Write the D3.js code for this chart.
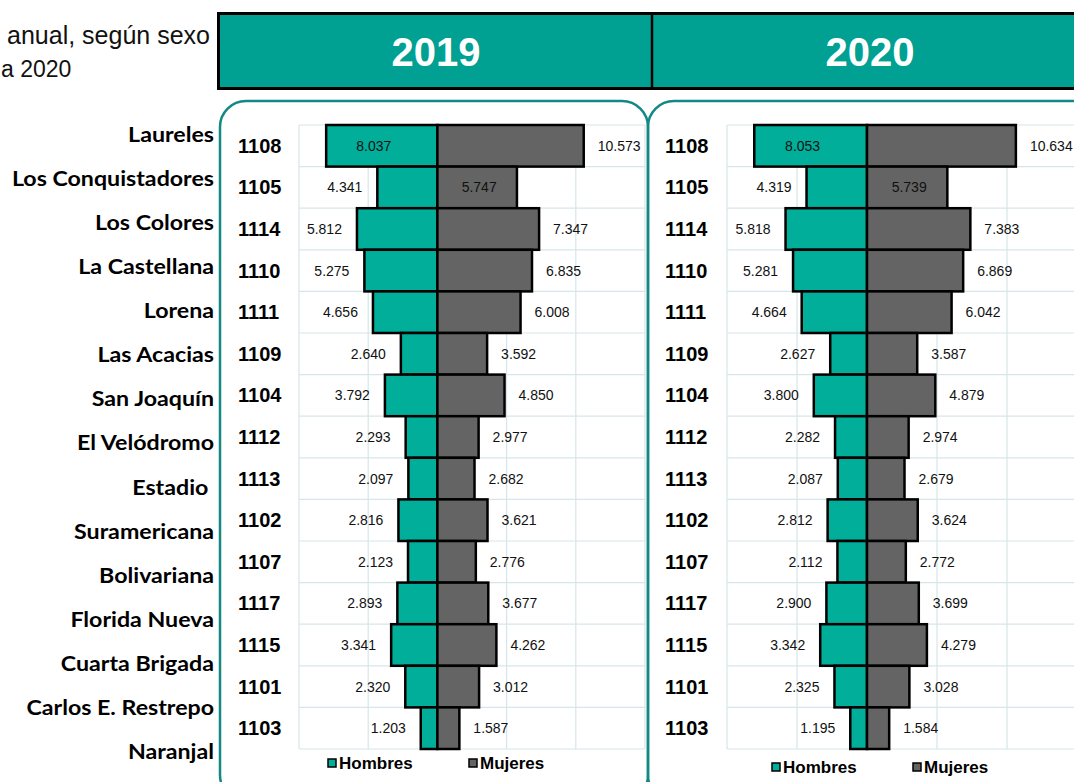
<!DOCTYPE html>
<html>
<head>
<meta charset="utf-8">
<script src="https://cdn.jsdelivr.net/npm/d3@7"></script>
<style>
  body { margin: 0; background: #fff; }
  svg { display: block; }
</style>
</head>
<body>
<div id="chart"></div>
<script>
// barrios (left labels) and codes (row labels)
var barrios = ["Laureles", "Los Conquistadores", "Los Colores", "La Castellana", "Lorena",
  "Las Acacias", "San Joaquín", "El Velódromo", "Estadio\u00a0", "Suramericana", "Bolivariana",
  "Florida Nueva", "Cuarta Brigada", "Carlos E. Restrepo", "Naranjal"];
var codigos = ["1108", "1105", "1114", "1110", "1111", "1109", "1104", "1112", "1113",
  "1102", "1107", "1117", "1115", "1101", "1103"];

var hombres2019 = [8037, 4341, 5812, 5275, 4656, 2640, 3792, 2293, 2097, 2816, 2123, 2893, 3341, 2320, 1203];
var mujeres2019 = [10573, 5747, 7347, 6835, 6008, 3592, 4850, 2977, 2682, 3621, 2776, 3677, 4262, 3012, 1587];
var hombres2020 = [8053, 4319, 5818, 5281, 4664, 2627, 3800, 2282, 2087, 2812, 2112, 2900, 3342, 2325, 1195];
var mujeres2020 = [10634, 5739, 7383, 6869, 6042, 3587, 4879, 2974, 2679, 3624, 2772, 3699, 4279, 3028, 1584];

var anios = ["2019", "2020"];
var ticks = [-10000, -5000, 0, 5000, 10000, 15000];
var leyenda = ["Hombres", "Mujeres"];

var W = 1074, H = 782;
var cTeal = "#00ae9a", cGrey = "#646464", cHead = "#00a093", cFrame = "#138985", cGrid = "#d6e6e8";
var arial = "Arial, 'Liberation Sans', sans-serif";

var svg = d3.select("#chart").append("svg").attr("width", W).attr("height", H);

// title (cut off on the left)
svg.append("text").attr("x", 210).attr("y", 44).attr("text-anchor", "end")
  .style("font-family", arial).style("font-size", "25px")
  .attr("fill", "#111").text("anual, según sexo");
svg.append("text").attr("x", 1).attr("y", 77)
  .style("font-family", arial).style("font-size", "23px")
  .attr("fill", "#111").text("a 2020");

// header band
svg.append("rect").attr("x", 218.5).attr("y", 13.5).attr("width", 900).attr("height", 75)
  .attr("fill", cHead).attr("stroke", "#000").attr("stroke-width", 3);
svg.append("line").attr("x1", 652).attr("x2", 652).attr("y1", 13).attr("y2", 89)
  .attr("stroke", "#000").attr("stroke-width", 2.5);
svg.selectAll("text.year").data(anios).enter().append("text")
  .attr("class", "year")
  .attr("x", function(d, i) { return i == 0 ? 436 : 870; })
  .attr("y", 66)
  .attr("text-anchor", "middle")
  .style("font-family", arial).style("font-size", "40px")
  .style("font-weight", "bold").attr("fill", "#fff").text(function(d) { return d; });

// left names (wide, slightly stretched like the source)
var yNames = d3.scalePoint().domain(barrios).range([135, 752]);
var names = svg.append("g").attr("transform", "translate(214,0) scale(1.16,1)");
names.selectAll("text.barrio").data(barrios).enter().append("text")
  .attr("class", "barrio")
  .attr("x", 0).attr("y", function(d) { return yNames(d); })
  .attr("dy", "0.35em").attr("text-anchor", "end")
  .style("font-family", "Lato, 'Open Sans', sans-serif").style("font-size", "20px")
  .style("font-weight", "bold").style("white-space", "pre").attr("fill", "#000")
  .text(function(d) { return d; });

function drawPanel(cfg) {
  var g = svg.append("g");

  g.append("rect").attr("x", cfg.frameX).attr("y", 101).attr("width", cfg.frameW).attr("height", 700)
    .attr("rx", 26).attr("ry", 26).attr("fill", "none")
    .attr("stroke", cFrame).attr("stroke-width", 2.5);

  var x = d3.scaleLinear().domain([-10000, 15000]).range([cfg.plotL, cfg.plotR]);
  var y = d3.scaleBand().domain(codigos).range([125, 749]).padding(0);

  // grid
  g.selectAll("line.v").data(ticks).enter().append("line")
    .attr("x1", function(d) { return x(d); }).attr("x2", function(d) { return x(d); })
    .attr("y1", 125).attr("y2", 749).attr("stroke", cGrid).attr("stroke-width", 1.2);
  g.selectAll("line.h").data(codigos.concat(["end"])).enter().append("line")
    .attr("x1", x(-10000)).attr("x2", x(15000))
    .attr("y1", function(d, i) { return 125 + i * y.bandwidth(); })
    .attr("y2", function(d, i) { return 125 + i * y.bandwidth(); })
    .attr("stroke", cGrid).attr("stroke-width", 1.2);

  // bars
  g.selectAll("rect.h").data(cfg.hombres).enter().append("rect")
    .attr("x", function(d) { return x(-d); })
    .attr("y", function(d, i) { return y(codigos[i]); })
    .attr("width", function(d) { return x(0) - x(-d); })
    .attr("height", y.bandwidth())
    .attr("fill", cTeal).attr("stroke", "#000").attr("stroke-width", 2.5);
  g.selectAll("rect.m").data(cfg.mujeres).enter().append("rect")
    .attr("x", x(0))
    .attr("y", function(d, i) { return y(codigos[i]); })
    .attr("width", function(d) { return x(d) - x(0); })
    .attr("height", y.bandwidth())
    .attr("fill", cGrey).attr("stroke", "#000").attr("stroke-width", 2.5);

  var fmt = function(v) { return d3.format(",")(v).replace(/,/g, "."); };

  // value labels (first row Hombres and second row Mujeres sit inside the bar)
  g.selectAll("text.lh").data(cfg.hombres).enter().append("text")
    .attr("x", function(d, i) { return i == 0 ? (x(-d) + x(0)) / 2 - 8 : x(-d) - 15; })
    .attr("y", function(d, i) { return y(codigos[i]) + y.bandwidth() / 2; })
    .attr("dy", "0.35em")
    .attr("text-anchor", function(d, i) { return i == 0 ? "middle" : "end"; })
    .style("font-family", arial).style("font-size", "14px").attr("fill", "#111")
    .text(function(d) { return fmt(d); });
  g.selectAll("text.lm").data(cfg.mujeres).enter().append("text")
    .attr("x", function(d, i) { return i == 1 ? (x(d) + x(0)) / 2 + 2 : x(d) + 14; })
    .attr("y", function(d, i) { return y(codigos[i]) + y.bandwidth() / 2; })
    .attr("dy", "0.35em")
    .attr("text-anchor", function(d, i) { return i == 1 ? "middle" : "start"; })
    .style("font-family", arial).style("font-size", "14px").attr("fill", "#111")
    .text(function(d) { return fmt(d); });

  // codes
  g.selectAll("text.cod").data(codigos).enter().append("text")
    .attr("x", cfg.codeX)
    .attr("y", function(d) { return y(d) + y.bandwidth() / 2; })
    .attr("dy", "0.35em")
    .style("font-family", arial).style("font-size", "20px").style("font-weight", "bold")
    .attr("fill", "#000").text(function(d) { return d; });

  // legend
  var lg = g.selectAll("g.leg").data(leyenda).enter().append("g")
    .attr("transform", function(d, i) { return "translate(" + (cfg.legX + i * 141) + "," + cfg.legY + ")"; });
  lg.append("rect").attr("x", 0).attr("y", -4).attr("width", 8).attr("height", 8)
    .attr("fill", function(d, i) { return i == 0 ? cTeal : cGrey; })
    .attr("stroke", "#000").attr("stroke-width", 1.5);
  lg.append("text").attr("x", 11).attr("y", 0).attr("dy", "0.35em")
    .style("font-family", arial).style("font-size", "17px").style("font-weight", "bold")
    .attr("fill", "#000").text(function(d) { return d; });
}

drawPanel({ hombres: hombres2019, mujeres: mujeres2019, frameX: 220, frameW: 428,
  plotL: 299, plotR: 645, codeX: 238, legX: 328, legY: 763 });
drawPanel({ hombres: hombres2020, mujeres: mujeres2020, frameX: 648, frameW: 460,
  plotL: 727, plotR: 1077, codeX: 665, legX: 772, legY: 767 });
</script>
</body>
</html>
